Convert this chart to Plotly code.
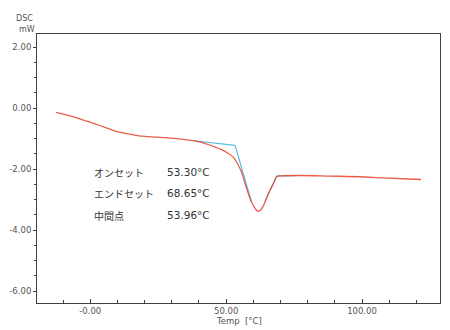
import plotly.graph_objects as go

# DSC curve (Temp °C, mW)
temp = [-12.6, -6.2, -2.5, 3.5, 9.5, 12.5, 15.6, 19.3, 27.6, 33.5, 39.9, 45.8, 48.5, 50.8, 52.5, 53.8,
        55.6, 57.5, 59.3, 61.1, 61.7, 62.5, 63.5, 65.9, 67.7, 68.6, 70.8, 77.5, 88.4, 99.3, 107.6, 121.7]
dsc = [-0.14, -0.29, -0.39, -0.57, -0.76, -0.82, -0.87, -0.92, -0.97, -1.02, -1.10, -1.27, -1.37, -1.49, -1.60, -1.76,
       -2.09, -2.63, -3.07, -3.34, -3.38, -3.36, -3.24, -2.74, -2.42, -2.25, -2.22, -2.21, -2.23, -2.25, -2.29, -2.34]

# Analysis (tangent / baseline) lines
base1_t = [38.0, 53.3]
base1_y = [-1.07, -1.22]
tan1_t = [53.3, 59.3]
tan1_y = [-1.22, -3.07]
tan2_t = [64.3, 68.65]
tan2_y = [-3.05, -2.22]
base2_t = [68.65, 77.5]
base2_y = [-2.22, -2.21]

labels = ["オンセット", "エンドセット", "中間点"]
values = ["53.30°C", "68.65°C", "53.96°C"]
label_y = [-2.10, -2.79, -3.51]

xtick_vals = [0, 50, 100]
xtick_text = ["-0.00", "50.00", "100.00"]
ytick_vals = [2, 0, -2, -4, -6]
ytick_text = ["2.00", "0.00", "-2.00", "-4.00", "-6.00"]

red = "#ea4b35"
blue = "#55bde6"
axc = "#404040"
txtc = "#555555"

fig = go.Figure()
for bt, by in [(base1_t, base1_y), (tan1_t, tan1_y), (tan2_t, tan2_y), (base2_t, base2_y)]:
    fig.add_trace(go.Scatter(x=bt, y=by, mode="lines", line=dict(color=blue, width=1.2),
                             hoverinfo="skip", showlegend=False))
fig.add_trace(go.Scatter(x=temp, y=dsc, mode="lines", line=dict(color=red, width=1.3, shape="spline", smoothing=0.8),
                         showlegend=False, opacity=0.9))

annos = []
for lab, val, yv in zip(labels, values, label_y):
    annos.append(dict(x=0.7, y=yv, xref="x", yref="y", text=lab, showarrow=False, xanchor="left",
                      yanchor="middle", font=dict(family="Noto Sans CJK JP", size=10, color="#333333")))
    annos.append(dict(x=27.6, y=yv, xref="x", yref="y", text=val, showarrow=False, xanchor="left",
                      yanchor="middle", font=dict(family="DejaVu Sans", size=10.5, color="#333333")))
annos.append(dict(x=0, y=1, xref="paper", yref="paper", text="DSC", showarrow=False, xanchor="center",
                  yanchor="middle", xshift=-13, yshift=16, font=dict(family="DejaVu Sans", size=8, color=txtc)))
annos.append(dict(x=0, y=1, xref="paper", yref="paper", text="mW", showarrow=False, xanchor="center",
                  yanchor="middle", xshift=-10, yshift=5, font=dict(family="DejaVu Sans", size=8, color=txtc)))
annos.append(dict(x=0.5, y=0, xref="paper", yref="paper", text="Temp  [°C]", showarrow=False, xanchor="center",
                  yanchor="middle", yshift=-18, font=dict(family="DejaVu Sans", size=8.5, color=txtc)))

fig.update_layout(
    width=450, height=330,
    margin=dict(l=33, r=9, t=34, b=27),
    paper_bgcolor="white", plot_bgcolor="white",
    annotations=annos,
    xaxis=dict(range=[-19.6, 128.7], tickmode="array", tickvals=xtick_vals, ticktext=xtick_text,
               showgrid=False, zeroline=False, showline=True, linecolor=axc, linewidth=1, mirror=True,
               ticks="inside", ticklen=4, tickcolor=axc,
               tickfont=dict(family="DejaVu Sans", size=8.5, color=txtc),
               minor=dict(tickmode="linear", tick0=0, dtick=10, ticks="inside", ticklen=3, tickcolor=axc, showgrid=False)),
    yaxis=dict(range=[-6.39, 2.43], tickmode="array", tickvals=ytick_vals, ticktext=ytick_text,
               showgrid=False, zeroline=False, showline=True, linecolor=axc, linewidth=1, mirror=True,
               ticks="outside", ticklen=3, tickcolor=axc,
               tickfont=dict(family="DejaVu Sans", size=8.5, color=txtc),
               minor=dict(tickmode="linear", tick0=0, dtick=0.5, ticks="outside", ticklen=2, tickcolor=axc, showgrid=False)),
)
fig.write_html("out.html")
